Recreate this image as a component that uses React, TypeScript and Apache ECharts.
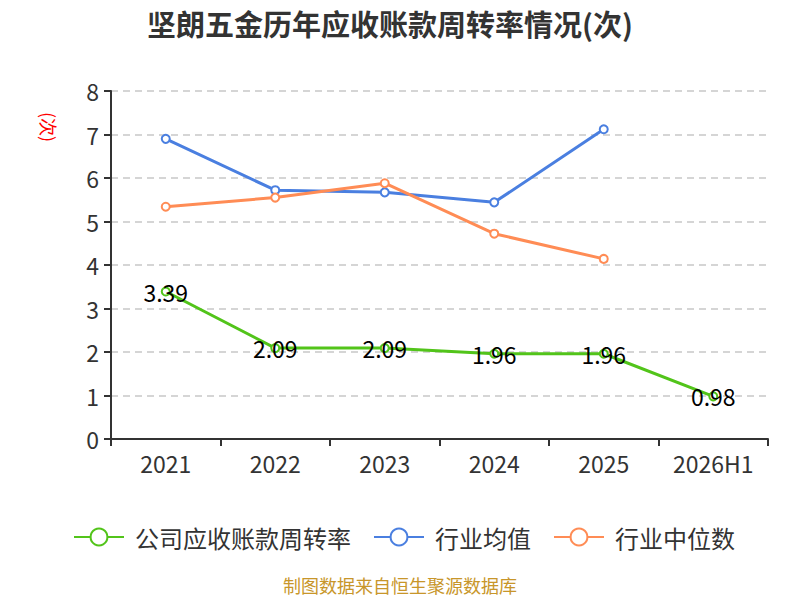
import React, { useEffect, useRef } from "react";
import * as echarts from "echarts";

const categories = ["2021", "2022", "2023", "2024", "2025", "2026H1"];
const companyTurnover = [3.39, 2.09, 2.09, 1.96, 1.96, 0.98];
const industryMean = [6.9, 5.72, 5.67, 5.44, 7.12, null];
const industryMedian = [5.34, 5.55, 5.88, 4.72, 4.14, null];
const yTicks = [0, 1, 2, 3, 4, 5, 6, 7, 8];

const FONT = "'Noto Sans CJK SC', 'Noto Sans', sans-serif";

export default function App() {
  const ref = useRef<HTMLDivElement>(null);
  useEffect(() => {
    if (!ref.current) return;
    const chart = echarts.init(ref.current, null, { renderer: "svg" });
    chart.setOption({
      animation: false,
      backgroundColor: "#ffffff",
      textStyle: { fontFamily: FONT },
      title: {
        text: "坚朗五金历年应收账款周转率情况(次)",
        left: 142,
        top: 3,
        textStyle: { fontSize: 29, fontWeight: "bold", color: "#333", fontFamily: FONT },
      },
      legend: {
        bottom: 46,
        left: 68,
        itemWidth: 50,
        itemHeight: 21,
        itemGap: 22,
        textStyle: { fontSize: 24, color: "#333", fontFamily: FONT, padding: [0, 0, 0, 6] },
        data: ["公司应收账款周转率", "行业均值", "行业中位数"],
      },
      grid: { left: 111, right: 32, top: 91, bottom: 161 },
      xAxis: {
        type: "category",
        data: categories,
        boundaryGap: true,
        axisLine: { lineStyle: { color: "#333", width: 2 } },
        axisTick: { show: true, alignWithLabel: false, length: 7, lineStyle: { color: "#333", width: 2 } },
        axisLabel: { fontSize: 23, color: "#333", margin: 12, fontFamily: FONT },
      },
      yAxis: {
        type: "value",
        min: yTicks[0],
        max: yTicks[yTicks.length - 1],
        interval: 1,
        axisLine: { show: true, lineStyle: { color: "#333", width: 2 } },
        axisTick: { show: true, length: 7, lineStyle: { color: "#333", width: 2 } },
        axisLabel: { fontSize: 23, color: "#333", margin: 12, fontFamily: FONT },
        splitLine: { show: true, lineStyle: { color: "#c8c8c8", type: [7, 5], width: 1.5 } },
      },
      graphic: [
        {
          type: "text",
          x: 58,
          y: 112,
          rotation: -Math.PI / 2,
          style: { text: "(次)", fill: "#ff0000", fontSize: 18, fontFamily: FONT },
        },
        {
          type: "text",
          left: "center",
          top: 576,
          style: { text: "制图数据来自恒生聚源数据库", fill: "#c8962a", fontSize: 18, fontFamily: FONT },
        },
      ],
      series: [
        {
          name: "公司应收账款周转率",
          type: "line",
          data: companyTurnover,
          symbol: "emptyCircle",
          symbolSize: 8,
          lineStyle: { width: 3, color: "#52c41a" },
          itemStyle: { color: "#52c41a" },
          label: {
            show: true,
            position: "inside",
            fontSize: 23,
            color: "#000",
            fontFamily: FONT,
          },
          z: 3,
        },
        {
          name: "行业均值",
          type: "line",
          data: industryMean,
          symbol: "emptyCircle",
          symbolSize: 8,
          lineStyle: { width: 3, color: "#4a7fe0" },
          itemStyle: { color: "#4a7fe0" },
        },
        {
          name: "行业中位数",
          type: "line",
          data: industryMedian,
          symbol: "emptyCircle",
          symbolSize: 8,
          lineStyle: { width: 3, color: "#ff8c55" },
          itemStyle: { color: "#ff8c55" },
        },
      ],
    });
    return () => chart.dispose();
  }, []);
  return (
    <div
      ref={ref}
      style={{ position: "fixed", left: 0, top: 0, width: 800, height: 600 }}
    />
  );
}
